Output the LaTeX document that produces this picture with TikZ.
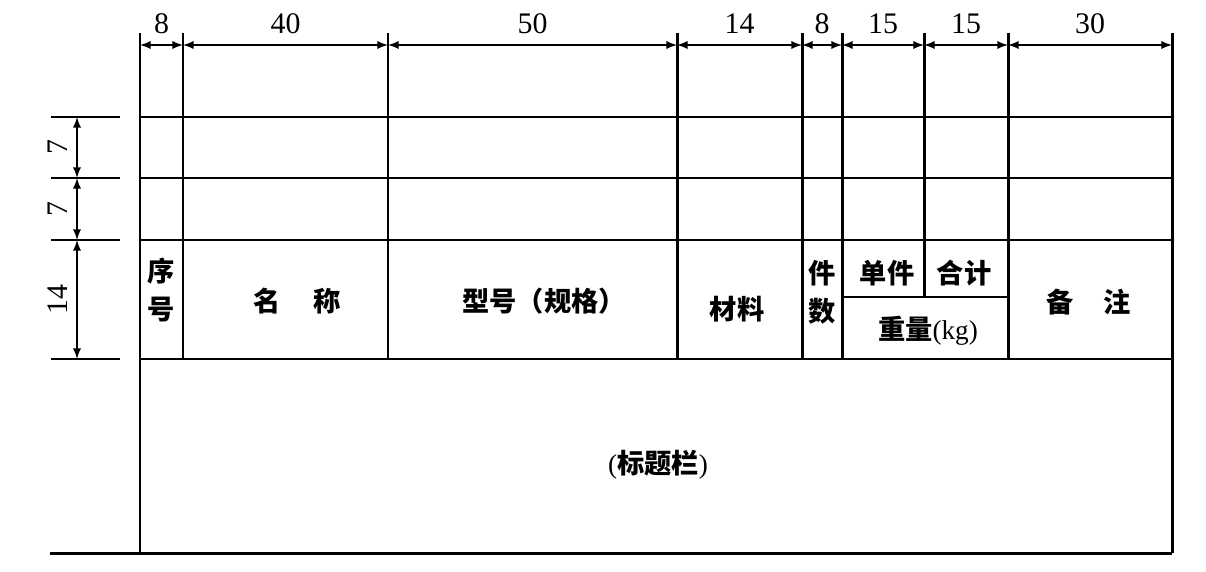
\documentclass[tikz,border=0pt]{standalone}
\usepackage{fontspec}
\setmainfont{Liberation Serif}
\newfontfamily\cjk{Noto Sans CJK SC}
\usepackage{tikz}
\tikzset{>=latex}

\begin{document}
\begin{tikzpicture}[x=0.02cm, y=-0.02cm,
    tbl/.style={line width=1.7pt},
    dimline/.style={line width=1.1pt, <->},
    lbl/.style={font=\cjk\bfseries\fontsize{15.5}{21.5}\selectfont, inner sep=0pt, align=center},
    dimnum/.style={font=\fontsize{17}{19}\selectfont, inner sep=0pt}]
  \useasboundingbox (0,0) rectangle (1206,571);
  % columns
  \foreach \x in {183,388,677,802,842,1008}
    \draw[tbl] (\x,33) -- (\x,359);
  \draw[tbl] (924,33) -- (924,297);
  \draw[tbl] (140,33) -- (140,553);
  \draw[tbl] (1172,33) -- (1172,553);
  % rows
  \foreach \y in {117,178,240,359}
    \draw[tbl] (140,\y) -- (1172,\y);
  \draw[tbl] (842,297) -- (1008,297);
  \draw[tbl] (50,553) -- (1172,553);
  % top dimensions
  \foreach \a/\b/\t [count=\i] in {140/183/8, 183/388/40, 388/677/50, 677/802/14,
      802/842/8, 842/924/15, 924/1008/15, 1008/1172/30}
    \draw[dimline] (\a,45) -- node[dimnum, above=6pt] (top\i) {\t} (\b,45);
  % left dimensions
  \foreach \y in {117,178,240,359}
    \draw[tbl] (51,\y) -- (120,\y);
  \foreach \a/\b/\t [count=\i] in {117/178/7, 178/240/7, 240/359/14}
    \draw[dimline] (77,\a) -- node[dimnum, rotate=90, above=5pt] (side\i) {\t} (77,\b);
  % headings
  \node[lbl] (xuhao) at (161,290) {序\\号};
  \node[lbl] (mingcheng) at (297,301) {名\hspace{1.2em}称};
  \node[lbl] (xinghao) at (544,301) {型号（规格）};
  \node[lbl] (cailiao) at (737,309) {材料};
  \node[lbl] (jianshu) at (822,292) {件\\数};
  \node[lbl] (danjian) at (887,273) {单件};
  \node[lbl] (heji) at (964,273) {合计};
  \node[lbl] (zhongliang) at (928,331) {重量\textnormal{(kg)}};
  \node[lbl] (beizhu) at (1089,302) {备\hspace{1.1em}注};
  \node[lbl] (biaoti) at (658,465) {\textnormal{(}标题栏\textnormal{)}};
\end{tikzpicture}
\end{document}
